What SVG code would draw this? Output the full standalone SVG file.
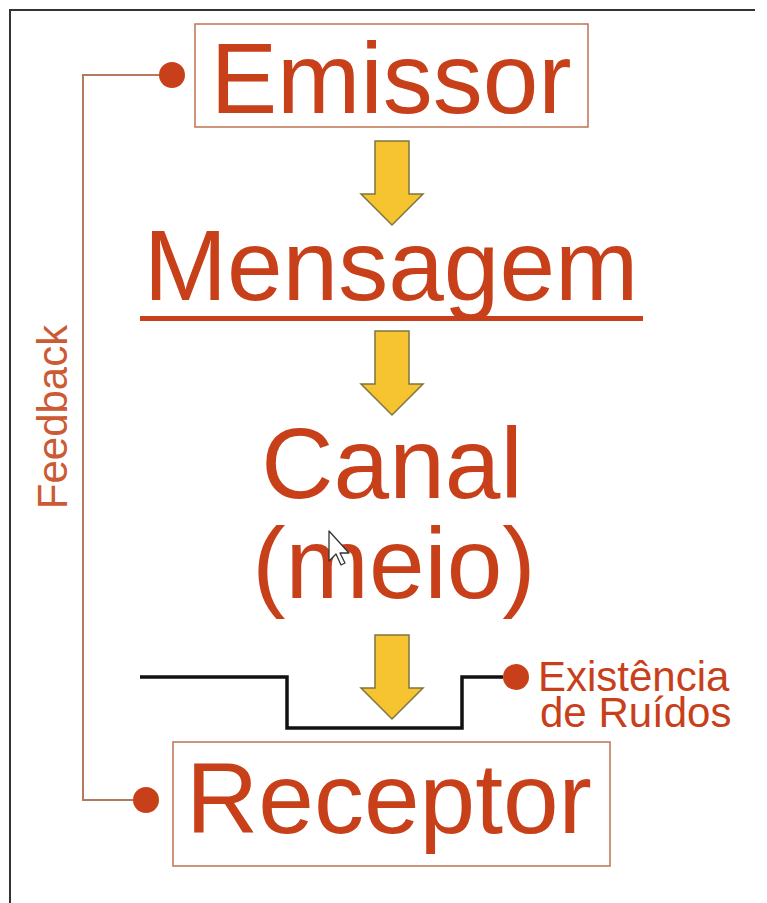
<svg xmlns="http://www.w3.org/2000/svg" width="767" height="903" viewBox="0 0 767 903">
<defs>
<style>
.big{font-family:"Liberation Sans",Arial,sans-serif;font-size:100px;fill:#C8401A}
.small{font-family:"Liberation Sans",Arial,sans-serif;font-size:42px;fill:#C8401A}
.box{fill:none;stroke:#C47A5C;stroke-width:1.6}
.dot{fill:#C8401A}
.arrow{fill:#F7C431;stroke:#7F7440;stroke-width:1.5;stroke-linejoin:miter}
</style>
<path id="arr" class="arrow" d="M-17,0 H17 V53 H31 L0,84 L-31,53 H-17 Z"/>
</defs>
<rect width="767" height="903" fill="#fff"/>
<path d="M10,903 V10 H755" fill="none" stroke="#333" stroke-width="2"/>
<g id="connectors">
<path d="M160,75 H83 V800 H134" fill="none" stroke="#B47A5E" stroke-width="2"/>
<path d="M140,677 H287 V728 H462 V677 H503" fill="none" stroke="#111" stroke-width="3.5"/>
<use href="#arr" x="392" y="141"/>
<use href="#arr" x="392" y="331"/>
<use href="#arr" x="392" y="635"/>
</g>
<g id="emissor">
<rect class="box" x="195" y="24" width="393" height="103"/>
<circle class="dot" cx="172" cy="75" r="13"/>
<text class="big" x="391" y="113" text-anchor="middle">Emissor</text>
</g>
<g id="mensagem">
<text class="big" x="391" y="300" text-anchor="middle">Mensagem</text>
<rect x="140" y="316" width="503" height="5" fill="#C8401A"/>
</g>
<g id="canal">
<text class="big" x="392" y="498" text-anchor="middle">Canal</text>
<text class="big" x="394" y="598" text-anchor="middle">(meio)</text>
</g>
<g id="ruidos">
<circle class="dot" cx="516" cy="677" r="13"/>
<text class="small" x="538" y="691">Existência</text>
<text class="small" x="540" y="727">de Ruídos</text>
</g>
<g id="receptor">
<rect class="box" x="173" y="742" width="437" height="124"/>
<circle class="dot" cx="146" cy="800" r="13"/>
<text class="big" x="389" y="833" text-anchor="middle">Receptor</text>
</g>
<g id="feedback">
<text class="small" transform="translate(67,417) rotate(-90)" text-anchor="middle" style="fill:#CC5A32">Feedback</text>
</g>
<path d="M329,531 V561 L336,554 L341,565 L345,563 L340,553 L349,553 Z" fill="#fff" stroke="#333" stroke-width="1.3" stroke-linejoin="round"/>
</svg>
